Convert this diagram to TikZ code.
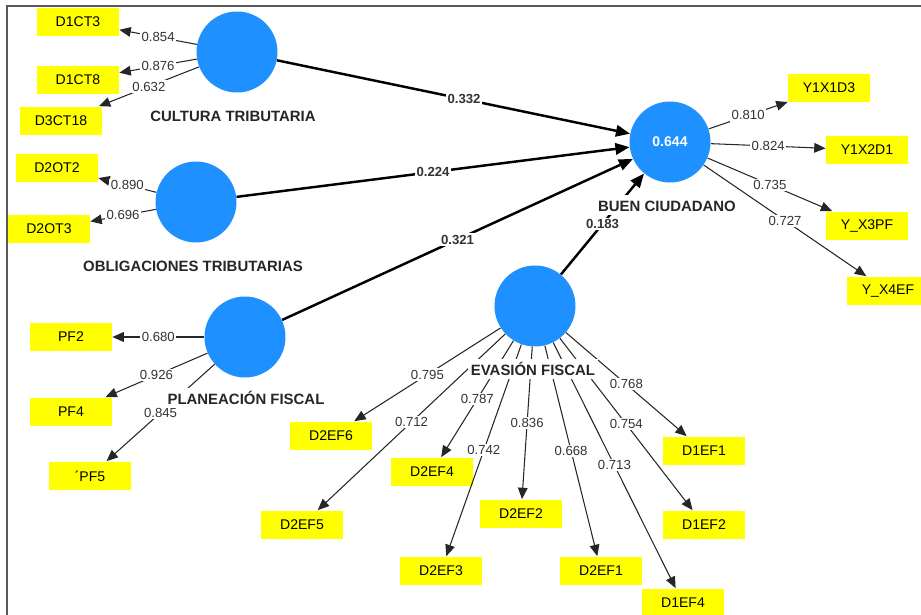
\documentclass[tikz,border=0pt]{standalone}
\usepackage{fontspec}
\setmainfont{Liberation Sans}
\usetikzlibrary{arrows.meta}
\definecolor{lvblue}{RGB}{30,144,255}
\definecolor{mvyellow}{RGB}{255,255,0}
\definecolor{numgray}{RGB}{51,51,51}
\begin{document}
\begin{tikzpicture}[x=0.02cm, y=-0.02cm,
    lv/.style={circle, fill=lvblue, minimum size=1.62cm, inner sep=0pt},
    mv/.style={fill=mvyellow, minimum width=1.64cm, minimum height=0.58cm, inner sep=0pt, font=\fontsize{8}{9}\selectfont},
    lvname/.style={fill=white, inner sep=1.5pt, text height=1.5ex, text depth=0pt, font=\fontsize{8.5}{10}\selectfont\bfseries, text=black!85},
    loading/.style={-{Triangle[length=6.5pt,width=5.5pt]}, line width=0.6pt, black!85},
    coef/.style={-{Triangle[length=8pt,width=6.5pt]}, line width=1.4pt},
    wt/.style={fill=white, inner sep=0.8pt, font=\fontsize{7.5}{9}\selectfont, text=numgray}]
    \useasboundingbox (0,0) rectangle (921,615);
    \draw[line width=1.5pt, black!65] (921,6) -- (7,6) -- (7,615);
    \node[lv] (ct) at (237,52) {};
    \node[lv] (ot) at (196,202) {};
    \node[lv] (pf) at (245,337) {};
    \node[lv, text=white, font=\fontsize{8}{9}\selectfont\bfseries] (bc) at (670,142) {0.644};
    \node[lv] (ef) at (535,306) {};
    \node[mv] (d1ct3) at (78,22) {D1CT3};
    \node[mv] (d1ct8) at (78,80) {D1CT8};
    \node[mv] (d3ct18) at (61,121) {D3CT18};
    \node[mv] (d2ot2) at (57,168) {D2OT2};
    \node[mv] (d2ot3) at (49,229) {D2OT3};
    \node[mv] (pf2) at (71,337) {PF2};
    \node[mv] (pf4) at (71,412) {PF4};
    \node[mv] (pf5) at (90,476) {´PF5};
    \node[mv] (d2ef6) at (331,436) {D2EF6};
    \node[mv] (d2ef5) at (302,525) {D2EF5};
    \node[mv] (d2ef4) at (432,472) {D2EF4};
    \node[mv] (d2ef3) at (441,571) {D2EF3};
    \node[mv] (d2ef2) at (521,514) {D2EF2};
    \node[mv] (d2ef1) at (601,571) {D2EF1};
    \node[mv] (d1ef1) at (704,451) {D1EF1};
    \node[mv] (d1ef2) at (704,525) {D1EF2};
    \node[mv] (d1ef4) at (683,603) {D1EF4};
    \node[mv] (y1x1d3) at (829,88) {Y1X1D3};
    \node[mv] (y1x2d1) at (867,150) {Y1X2D1};
    \node[mv] (yx3pf) at (867,226) {Y\_X3PF};
    \node[mv] (yx4ef) at (888,291) {Y\_X4EF};
    \draw[loading] (ct) -- node[wt] {0.854} (d1ct3);
    \draw[loading] (ct) -- node[wt] {0.876} (d1ct8);
    \draw[loading] (ct) -- node[wt] {0.632} (d3ct18);
    \draw[loading] (ot) -- node[wt] {0.890} (d2ot2);
    \draw[loading] (ot) -- node[wt] {0.696} (d2ot3);
    \draw[loading] (pf) -- node[wt] {0.680} (pf2);
    \draw[loading] (pf) -- node[wt] {0.926} (pf4);
    \draw[loading] (pf) -- node[wt] {0.845} (pf5);
    \draw[loading] (ef) -- node[wt] {0.795} (d2ef6);
    \draw[loading] (ef) -- node[wt] {0.712} (d2ef5);
    \draw[loading] (ef) -- node[wt] {0.787} (d2ef4);
    \draw[loading] (ef) -- node[wt] {0.742} (d2ef3);
    \draw[loading] (ef) -- node[wt] {0.836} (d2ef2);
    \draw[loading] (ef) -- node[wt] {0.668} (d2ef1);
    \draw[loading] (ef) -- node[wt] {0.768} (d1ef1);
    \draw[loading] (ef) -- node[wt] {0.754} (d1ef2);
    \draw[loading] (ef) -- node[wt] {0.713} (d1ef4);
    \draw[loading] (bc) -- node[wt] {0.810} (y1x1d3);
    \draw[loading] (bc) -- node[wt] {0.824} (y1x2d1);
    \draw[loading] (bc) -- node[wt] {0.735} (yx3pf);
    \draw[loading] (bc) -- node[wt] {0.727} (yx4ef);
    \draw[coef] (ct) -- node[wt, pos=0.53, font=\fontsize{7.5}{9}\selectfont\bfseries] {0.332} (bc);
    \draw[coef] (ot) -- node[wt, font=\fontsize{7.5}{9}\selectfont\bfseries] {0.224} (bc);
    \draw[coef] (pf) -- node[wt, font=\fontsize{7.5}{9}\selectfont\bfseries] {0.321} (bc);
    \draw[coef] (ef) -- node[wt, font=\fontsize{7.5}{9}\selectfont\bfseries] {0.183} (bc);
    \node[lvname] (ctname) at (233,115) {CULTURA TRIBUTARIA};
    \node[lvname] (otname) at (193,265) {OBLIGACIONES TRIBUTARIAS};
    \node[lvname] (pfname) at (246,398) {PLANEACIÓN FISCAL};
    \node[lvname] (bcname) at (667,205) {BUEN CIUDADANO};
    \node[lvname] (efname) at (533,369) {EVASIÓN FISCAL};
    \end{tikzpicture}
\end{document}
